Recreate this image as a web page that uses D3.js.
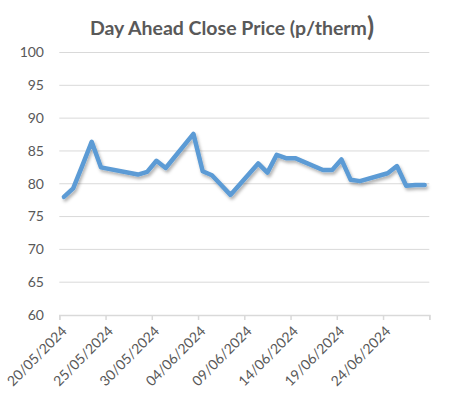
<!DOCTYPE html>
<html>
<head>
<meta charset="utf-8">
<script src="https://cdn.jsdelivr.net/npm/d3@7"></script>
<style>
  body { margin: 0; background: #fff; }
  text { font-family: Lato, "Open Sans", sans-serif; fill: #595959; }
</style>
</head>
<body>
<svg id="chart" width="465" height="408"></svg>
<script>
// data
var dates = ["20/05/2024","21/05/2024","22/05/2024","23/05/2024","24/05/2024",
             "28/05/2024","29/05/2024","30/05/2024","31/05/2024",
             "03/06/2024","04/06/2024","05/06/2024","06/06/2024","07/06/2024",
             "10/06/2024","11/06/2024","12/06/2024","13/06/2024","14/06/2024",
             "17/06/2024","18/06/2024","19/06/2024","20/06/2024","21/06/2024",
             "24/06/2024","25/06/2024","26/06/2024","27/06/2024","28/06/2024"];
var prices = [78.0, 79.3, 82.8, 86.4, 82.5,
              81.4, 81.8, 83.5, 82.4,
              87.6, 81.9, 81.3, 79.8, 78.3,
              83.1, 81.7, 84.4, 83.9, 83.9,
              82.1, 82.1, 83.7, 80.6, 80.4,
              81.6, 82.7, 79.7, 79.8, 79.8];
var xTicks = ["20/05/2024","25/05/2024","30/05/2024","04/06/2024","09/06/2024",
              "14/06/2024","19/06/2024","24/06/2024","29/06/2024"];
var xTickLabels = ["20/05/2024","25/05/2024","30/05/2024","04/06/2024","09/06/2024",
                   "14/06/2024","19/06/2024","24/06/2024",""];
var yTicks = [60, 65, 70, 75, 80, 85, 90, 95, 100];
var title = "Day Ahead Close Price (p/therm";

var parse = d3.timeParse("%d/%m/%Y");
var svg = d3.select("#chart");
var plotLeft = 59.3, plotRight = 429.3, plotTop = 52.5, plotBottom = 315;

// date axis: each day is a slot, points sit in the middle of the slot
var x = d3.scaleTime()
    .domain([parse(xTicks[0]), parse(xTicks[xTicks.length - 1])])
    .range([plotLeft, plotRight]);
var y = d3.scaleLinear().domain([60, 100]).range([plotBottom, plotTop]);

var defs = svg.append("defs");
var f = defs.append("filter").attr("id", "shadow")
    .attr("x", "-10%").attr("y", "-10%").attr("width", "120%").attr("height", "130%");
f.append("feDropShadow").attr("dx", 1.5).attr("dy", 2.5).attr("stdDeviation", 1.4)
    .attr("flood-color", "#000").attr("flood-opacity", 0.3);

// gridlines
svg.append("g").selectAll("line").data(yTicks.slice(1)).enter().append("line")
    .attr("x1", plotLeft).attr("x2", plotRight)
    .attr("y1", function(d) { return y(d); }).attr("y2", function(d) { return y(d); })
    .attr("stroke", "#d9d9d9").attr("stroke-width", 1);

// y labels
svg.append("g").selectAll("text").data(yTicks).enter().append("text")
    .attr("x", 44).attr("y", function(d) { return y(d); })
    .attr("dy", "0.35em").attr("text-anchor", "end")
    .style("font-size", "14px")
    .text(function(d) { return d; });

// x axis
var xAxis = d3.axisBottom(x)
    .tickValues(xTicks.map(parse))
    .tickSize(5)
    .tickFormat(function(d, i) { return xTickLabels[i]; });
var gx = svg.append("g").attr("transform", "translate(0," + plotBottom + ")").call(xAxis);
gx.select(".domain").attr("stroke", "#d9d9d9").attr("stroke-width", 1.5);
gx.selectAll(".tick line").attr("stroke", "#d9d9d9").attr("stroke-width", 1.5);
gx.selectAll(".tick text")
    .attr("fill", "#595959")
    .style("font-size", "14px")
    .style("font-family", "Lato, 'Open Sans', sans-serif")
    .attr("text-anchor", "end")
    .attr("dy", null)
    .attr("y", 0)
    .attr("transform", "translate(8,17) rotate(-45)");

// line
var line = d3.line()
    .x(function(d) { return x(d3.timeHour.offset(parse(d.date), 12)); })
    .y(function(d) { return y(d.price); });
var series = dates.map(function(d, i) { return { date: d, price: prices[i] }; });
svg.append("path").datum(series)
    .attr("d", line)
    .attr("fill", "none")
    .attr("stroke", "#5b9bd5")
    .attr("stroke-width", 4.5)
    .attr("stroke-linejoin", "round")
    .attr("stroke-linecap", "round")
    .attr("filter", "url(#shadow)");

// title, closing bracket drawn larger as in the original
var t = svg.append("text")
    .attr("x", 232).attr("y", 34.5).attr("text-anchor", "middle")
    .style("font-size", "19.5px").style("font-weight", "bold");
t.append("tspan").text(title);
t.append("tspan").style("font-size", "26px").attr("dy", 1).text(")");
</script>
</body>
</html>
